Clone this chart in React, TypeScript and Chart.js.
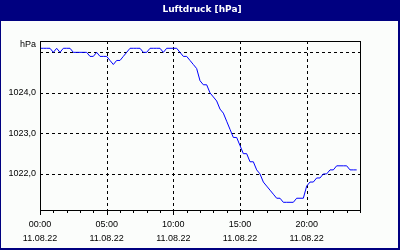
import React, { useEffect, useRef } from "react";
import { Chart, registerables } from "chart.js";

Chart.register(...registerables);

const chartTitle = "Luftdruck [hPa]";
const unitLabel = "hPa";
const dateLabel = "11.08.22";
const labelHours = [0, 5, 10, 15, 20];
const hourLabels = ["00:00", "05:00", "10:00", "15:00", "20:00"];
const gridHours = [5, 10, 15, 20];
const yTickValues = [1022, 1023, 1024];
const yGridValues = [1022, 1023, 1024, 1025];
const yMin = 1021.11;
const yMax = 1025.28;
const xMin = 0;
const xMax = 24;
const sampleStepHours = 0.25;

// air pressure, one value every 15 minutes from 00:00
const pressure = [
  1025.1, 1025.1, 1025.1, 1025.1, 1025.0, 1025.1, 1025.0, 1025.1,
  1025.1, 1025.1, 1025.0, 1025.0, 1025.0, 1025.0, 1025.0, 1024.9,
  1024.9, 1025.0, 1024.9, 1024.9, 1024.9, 1024.8, 1024.7, 1024.8,
  1024.8, 1024.9, 1025.0, 1025.1, 1025.1, 1025.1, 1025.1, 1025.0,
  1025.0, 1025.1, 1025.1, 1025.1, 1025.1, 1025.0, 1025.1, 1025.1,
  1025.1, 1025.1, 1025.0, 1024.9, 1024.9, 1024.8, 1024.7, 1024.6,
  1024.3, 1024.2, 1024.2, 1024.0, 1023.9, 1023.8, 1023.6, 1023.5,
  1023.3, 1023.1, 1022.9, 1022.9, 1022.7, 1022.5, 1022.5, 1022.3,
  1022.3, 1022.1, 1022.0, 1021.8, 1021.7, 1021.6, 1021.5, 1021.4,
  1021.4, 1021.3, 1021.3, 1021.3, 1021.3, 1021.4, 1021.4, 1021.4,
  1021.7, 1021.8, 1021.8, 1021.9, 1021.9, 1022.0, 1022.0, 1022.1,
  1022.1, 1022.2, 1022.2, 1022.2, 1022.2, 1022.1, 1022.1, 1022.1,
];

const NAVY = "#000080";
const BG = "#fbfdfb";

const framePlugin = {
  id: "frame",
  beforeDraw(chart: any) {
    const { ctx, width, height, chartArea: a, scales } = chart;
    ctx.save();
    ctx.fillStyle = BG;
    ctx.fillRect(0, 0, width, height);
    ctx.fillStyle = NAVY;
    ctx.fillRect(0, 0, width, 21);
    ctx.fillRect(0, 0, 1, height);
    ctx.fillRect(width - 2, 0, 2, height);
    ctx.fillRect(0, height - 2, width, 2);
    ctx.fillStyle = "#ffffff";
    ctx.font = 'bold 9px "DejaVu Sans"';
    ctx.textAlign = "center";
    ctx.textBaseline = "middle";
    ctx.fillText(chartTitle, width / 2 + 2, 10);

    ctx.strokeStyle = "#000000";
    ctx.lineWidth = 1;
    ctx.setLineDash([3, 3]);
    for (const v of yGridValues) {
      const py = Math.round(scales.y.getPixelForValue(v)) + 0.5;
      ctx.beginPath();
      ctx.moveTo(a.left, py);
      ctx.lineTo(a.right, py);
      ctx.stroke();
    }
    for (const h of gridHours) {
      const px = Math.round(scales.x.getPixelForValue(h)) + 0.5;
      ctx.beginPath();
      ctx.moveTo(px, a.top);
      ctx.lineTo(px, a.bottom);
      ctx.stroke();
    }
    ctx.restore();
  },
  afterDatasetsDraw(chart: any) {
    const { ctx, chartArea: a, scales } = chart;
    ctx.save();
    ctx.strokeStyle = "#000000";
    ctx.lineWidth = 1;
    ctx.setLineDash([]);
    ctx.strokeRect(Math.round(a.left) + 0.5, Math.round(a.top) + 0.5, Math.round(a.right - a.left), Math.round(a.bottom - a.top));
    for (let h = xMin; h <= xMax; h++) {
      const px = Math.round(scales.x.getPixelForValue(h)) + 0.5;
      const len = labelHours.includes(h) ? 4 : 2;
      ctx.beginPath();
      ctx.moveTo(px, a.bottom);
      ctx.lineTo(px, a.bottom + 1 + len);
      ctx.stroke();
    }
    ctx.fillStyle = "#000000";
    ctx.font = '9px "Liberation Sans"';
    ctx.textAlign = "right";
    ctx.textBaseline = "middle";
    ctx.fillText(unitLabel, a.left - 4, a.top + 4);
    ctx.restore();
  },
};

export default function App() {
  const ref = useRef<HTMLCanvasElement>(null);
  useEffect(() => {
    if (!ref.current) return;
    const points = pressure.map((p, i) => ({ x: i * sampleStepHours, y: p }));
    const chart = new Chart(ref.current, {
      type: "line",
      data: {
        datasets: [
          {
            data: points,
            borderColor: "#0000ff",
            borderWidth: 1,
            pointRadius: 0,
            tension: 0,
            fill: false,
          },
        ],
      },
      options: {
        animation: false,
        responsive: false,
        events: [],
        layout: { padding: { top: 41, right: 40, left: 0, bottom: 0 } },
        plugins: {
          legend: { display: false },
          title: { display: false },
          tooltip: { enabled: false },
        },
        scales: {
          x: {
            type: "linear",
            min: xMin,
            max: xMax,
            grid: { display: false, drawTicks: false },
            border: { display: false },
            afterFit: (s: any) => {
              s.height = 40;
            },
            afterBuildTicks: (s: any) => {
              s.ticks = labelHours.map((v) => ({ value: v }));
            },
            ticks: {
              autoSkip: false,
              maxRotation: 0,
              padding: 7,
              color: "#000000",
              font: { family: "Liberation Sans", size: 9, lineHeight: 1.6 },
              callback: (v: any, i: number) => [hourLabels[i], dateLabel],
            },
          },
          y: {
            min: yMin,
            max: yMax,
            grid: { display: false, drawTicks: false },
            border: { display: false },
            afterFit: (s: any) => {
              s.width = 40;
            },
            afterBuildTicks: (s: any) => {
              s.ticks = yTickValues.map((v) => ({ value: v }));
            },
            ticks: {
              padding: 4,
              color: "#000000",
              font: { family: "Liberation Sans", size: 9 },
              callback: (v: any) => Number(v).toFixed(1).replace(".", ","),
            },
          },
        },
      },
      plugins: [framePlugin],
    });
    return () => chart.destroy();
  }, []);
  return (
    <div style={{ position: "absolute", left: 0, top: 0, width: 400, height: 250 }}>
      <canvas ref={ref} width={400} height={250} style={{ display: "block", width: 400, height: 250 }} />
    </div>
  );
}
